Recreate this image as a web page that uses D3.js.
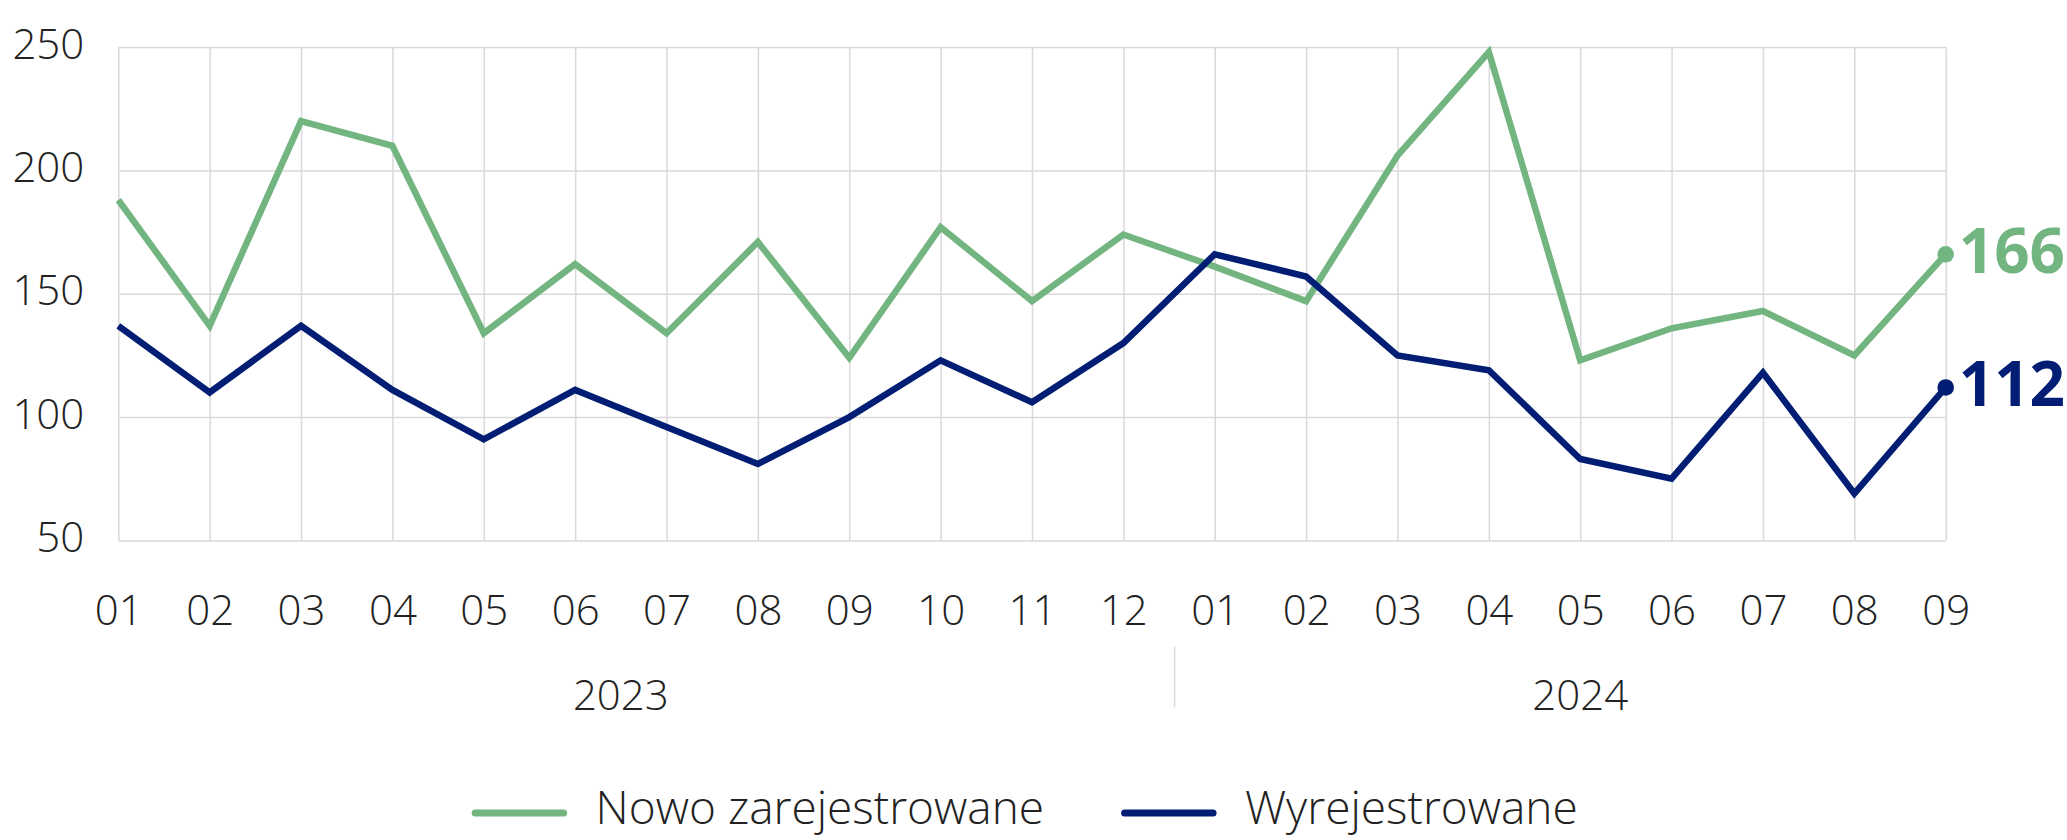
<!DOCTYPE html>
<html>
<head>
<meta charset="utf-8">
<script src="https://cdn.jsdelivr.net/npm/d3@7"></script>
<style>
  html, body { margin: 0; padding: 0; background: #fff; overflow: hidden; }
  text { font-family: "Open Sans", "Noto Sans", sans-serif; }
</style>
</head>
<body>
<div id="vis"></div>
<script>
var width = 2067;
var height = 840;

// data
var months = ['01','02','03','04','05','06','07','08','09','10','11','12',
              '01','02','03','04','05','06','07','08','09'];
var years = ['2023', '2024'];
var yearStart = [0, 12];
var yearEnd = [11, 20];
var nowo = [188,137,220,210,134,162,134,171,124,177,147,174,161,147,206,248,123,136,143,125,166];
var wyrej = [137,110,137,111,91,111,96,81,100,123,106,130,166,157,125,119,83,75,118,69,112];
var yTicks = [50, 100, 150, 200, 250];
var seriesNames = ['Nowo zarejestrowane', 'Wyrejestrowane'];

var green = '#73b580';
var navy = '#021d74';
var textColor = '#222';
var gridColor = '#d9d9d9';

var margin = { left: 118.3, top: 47.1, right: 2067 - 1945.7, bottom: 840 - 540.4 };
var w = width - margin.left - margin.right;
var h = height - margin.top - margin.bottom;

var svg = d3.select('#vis')
    .append('svg')
        .attr('width', width)
        .attr('height', height);

var g = svg.append('g')
    .attr('transform', 'translate(' + margin.left + ',' + margin.top + ')');

var x_scale = d3.scalePoint()
    .domain(d3.range(months.length))
    .range([0, w]);

var y_scale = d3.scaleLinear()
    .domain([50, 250])
    .range([h, 0]);

// horizontal grid + y labels
var yAxis = g.append('g')
    .call(d3.axisLeft(y_scale).tickValues(yTicks).tickSize(-w).tickPadding(34));
yAxis.select('.domain').remove();
yAxis.selectAll('line').attr('stroke', gridColor).attr('stroke-width', 1.5);
yAxis.selectAll('text')
    .attr('fill', textColor)
    .attr('font-size', 42)
    .attr('font-weight', 300)
    .attr('dy', 11);

// vertical grid + month labels
var xAxis = g.append('g')
    .attr('transform', 'translate(0,' + h + ')')
    .call(d3.axisBottom(x_scale).tickSize(-h).tickFormat(function(i){ return months[i]; }));
xAxis.select('.domain').remove();
xAxis.selectAll('line').attr('stroke', gridColor).attr('stroke-width', 1.5);
xAxis.selectAll('text')
    .attr('fill', textColor)
    .attr('font-size', 42)
    .attr('font-weight', 300)
    .attr('y', 85)
    .attr('dy', 0);

// year labels and divider
years.forEach(function(yr, k){
    var cx = (x_scale(yearStart[k]) + x_scale(yearEnd[k])) / 2;
    g.append('text')
        .attr('x', cx)
        .attr('y', h + 170)
        .attr('text-anchor', 'middle')
        .attr('fill', textColor)
        .attr('font-size', 42)
        .attr('font-weight', 300)
        .text(yr);
});
var divX = (x_scale(yearEnd[0]) + x_scale(yearStart[1])) / 2 + 5.5;
g.append('line')
    .attr('x1', divX).attr('x2', divX)
    .attr('y1', h + 106).attr('y2', h + 167)
    .attr('stroke', gridColor)
    .attr('stroke-width', 1.5);

// lines
var line = d3.line()
    .x(function(d, i){ return x_scale(i); })
    .y(function(d){ return y_scale(d); });

var series = [
    { name: seriesNames[0], values: nowo, color: green },
    { name: seriesNames[1], values: wyrej, color: navy }
];

series.forEach(function(s){
    g.append('path')
        .datum(s.values)
        .attr('fill', 'none')
        .attr('stroke', s.color)
        .attr('stroke-width', 6.5)
        .attr('stroke-linejoin', 'miter')
        .attr('d', line);

    var last = s.values.length - 1;
    g.append('circle')
        .attr('cx', x_scale(last))
        .attr('cy', y_scale(s.values[last]))
        .attr('r', 8.3)
        .attr('fill', s.color);

    g.append('text')
        .attr('x', x_scale(last) + 13)
        .attr('y', y_scale(s.values[last]) + 19)
        .attr('fill', s.color)
        .attr('font-size', 62)
        .attr('font-weight', 700)
        .text(s.values[last]);
});

// legend (kept just inside the bottom edge)
var legend = svg.append('g').attr('transform', 'translate(471.6,813)');
var lx = 0;
series.forEach(function(s){
    legend.append('line')
        .attr('x1', lx + 3.5).attr('x2', lx + 92)
        .attr('y1', 0).attr('y2', 0)
        .attr('stroke', s.color)
        .attr('stroke-width', 7)
        .attr('stroke-linecap', 'round');
    var t = legend.append('text')
        .attr('x', lx + 124)
        .attr('y', 11)
        .attr('fill', textColor)
        .attr('font-size', 46)
        .attr('font-weight', 300)
        .text(s.name);
    lx += 124 + t.node().getComputedTextLength() + 77;
});
</script>
</body>
</html>
